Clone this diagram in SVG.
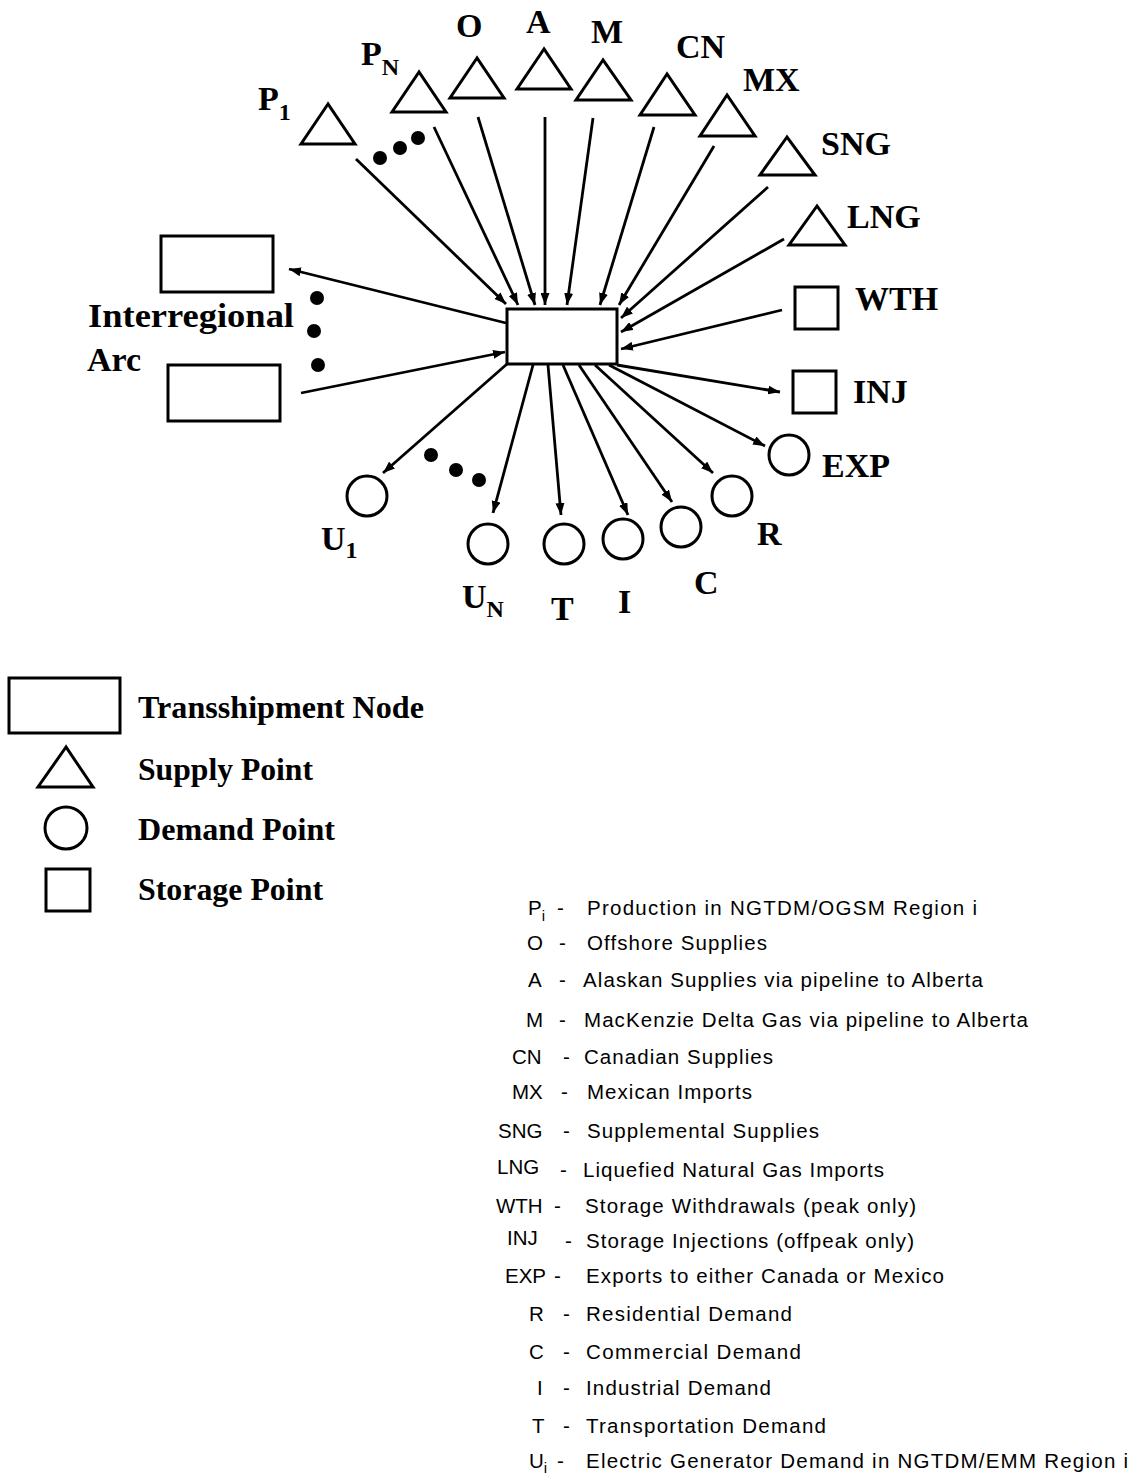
<svg xmlns="http://www.w3.org/2000/svg" width="1135" height="1477" viewBox="0 0 1135 1477">
<style>
.shp{fill:#fff;stroke:#000;stroke-width:3}
.con line{stroke:#000;stroke-width:2.8}
.lbl{font-family:"Liberation Serif","Times New Roman",serif;font-weight:bold;font-size:34px;fill:#000}
.leg{font-family:"Liberation Serif","Times New Roman",serif;font-weight:bold;font-size:32px;fill:#000}
.sub{font-size:24px}
.txt{font-family:"Liberation Sans",Arial,sans-serif;font-size:20.5px;fill:#000}
.tsub{font-size:15px}
.dot{fill:#000}
</style>
<defs>
<marker id="ah" markerUnits="userSpaceOnUse" markerWidth="13" markerHeight="9" refX="12" refY="4.5" orient="auto">
<path d="M0,0 L12,4.5 L0,9 z" fill="#000"/>
</marker>
</defs>
<rect width="1135" height="1477" fill="#fff"/>

<g class="con">
<line x1="356" y1="159" x2="506" y2="304" marker-end="url(#ah)"/>
<line x1="434" y1="127" x2="518" y2="305" marker-end="url(#ah)"/>
<line x1="478" y1="117" x2="535" y2="305" marker-end="url(#ah)"/>
<line x1="545" y1="117" x2="545" y2="305" marker-end="url(#ah)"/>
<line x1="593" y1="118" x2="567" y2="305" marker-end="url(#ah)"/>
<line x1="654" y1="127" x2="600" y2="305" marker-end="url(#ah)"/>
<line x1="714" y1="146" x2="619" y2="305" marker-end="url(#ah)"/>
<line x1="768" y1="187" x2="621" y2="318" marker-end="url(#ah)"/>
<line x1="784" y1="239" x2="621" y2="332" marker-end="url(#ah)"/>
<line x1="782" y1="310" x2="621" y2="349" marker-end="url(#ah)"/>
<line x1="506" y1="323" x2="289" y2="269" marker-end="url(#ah)"/>
<line x1="301" y1="393" x2="505" y2="352" marker-end="url(#ah)"/>
<line x1="617" y1="365" x2="780" y2="392" marker-end="url(#ah)"/>
<line x1="609" y1="365" x2="765" y2="446" marker-end="url(#ah)"/>
<line x1="595" y1="365" x2="713" y2="473" marker-end="url(#ah)"/>
<line x1="579" y1="365" x2="672" y2="502" marker-end="url(#ah)"/>
<line x1="563" y1="365" x2="628" y2="515" marker-end="url(#ah)"/>
<line x1="548" y1="365" x2="561" y2="515" marker-end="url(#ah)"/>
<line x1="533" y1="365" x2="493" y2="513" marker-end="url(#ah)"/>
<line x1="507" y1="364" x2="383" y2="473" marker-end="url(#ah)"/>
</g>

<g id="node-transshipment"><rect class="shp" x="507" y="309" width="110" height="55"/></g>

<g id="node-inter-upper"><rect class="shp" x="161" y="236" width="112" height="56"/></g>
<g id="node-inter-lower"><rect class="shp" x="168" y="365" width="112" height="56"/>
<text class="lbl" x="88" y="327" textLength="206" lengthAdjust="spacingAndGlyphs">Interregional</text>
<text class="lbl" x="87" y="371">Arc</text></g>

<g id="node-P1"><polygon class="shp" points="328,104 301,144 355,144"/><text class="lbl" x="258" y="110">P<tspan class="sub" dy="10">1</tspan></text></g>
<g id="node-PN"><polygon class="shp" points="419,72 392,112 446,112"/><text class="lbl" x="361" y="65">P<tspan class="sub" dy="10">N</tspan></text></g>
<g id="node-O"><polygon class="shp" points="477,58 450,98 504,98"/><text class="lbl" x="456" y="37">O</text></g>
<g id="node-A"><polygon class="shp" points="544,49 517,89 571,89"/><text class="lbl" x="526" y="33">A</text></g>
<g id="node-M"><polygon class="shp" points="603,60 576,100 631,100"/><text class="lbl" x="591" y="43">M</text></g>
<g id="node-CN"><polygon class="shp" points="667,74 640,115 695,115"/><text class="lbl" x="676" y="58">CN</text></g>
<g id="node-MX"><polygon class="shp" points="727,95 700,136 755,136"/><text class="lbl" x="743" y="91">MX</text></g>
<g id="node-SNG"><polygon class="shp" points="787,137 760,175 815,175"/><text class="lbl" x="821" y="155">SNG</text></g>
<g id="node-LNG"><polygon class="shp" points="817,206 789,245 845,245"/><text class="lbl" x="847" y="228">LNG</text></g>

<g id="node-WTH"><rect class="shp" x="795" y="287" width="43" height="42"/><text class="lbl" x="855" y="310">WTH</text></g>
<g id="node-INJ"><rect class="shp" x="793" y="371" width="43" height="42"/><text class="lbl" x="853" y="403">INJ</text></g>

<g id="node-EXP"><circle class="shp" cx="789" cy="455" r="20"/><text class="lbl" x="822" y="477">EXP</text></g>
<g id="node-R"><circle class="shp" cx="732" cy="496" r="20"/><text class="lbl" x="757" y="545">R</text></g>
<g id="node-C"><circle class="shp" cx="681" cy="527" r="20"/><text class="lbl" x="694" y="594">C</text></g>
<g id="node-I"><circle class="shp" cx="623" cy="539" r="20"/><text class="lbl" x="618" y="613">I</text></g>
<g id="node-T"><circle class="shp" cx="564" cy="544" r="20"/><text class="lbl" x="551" y="620">T</text></g>
<g id="node-UN"><circle class="shp" cx="488" cy="544" r="20"/><text class="lbl" x="462" y="608">U<tspan class="sub" dy="9">N</tspan></text></g>
<g id="node-U1"><circle class="shp" cx="367" cy="496" r="20"/><text class="lbl" x="321" y="550">U<tspan class="sub" dy="8">1</tspan></text></g>

<g id="dots">
<circle class="dot" cx="380" cy="158" r="7"/><circle class="dot" cx="400" cy="148" r="7"/><circle class="dot" cx="418" cy="138" r="7"/>
<circle class="dot" cx="317" cy="298" r="7"/><circle class="dot" cx="314" cy="331" r="7"/><circle class="dot" cx="318" cy="365" r="7"/>
<circle class="dot" cx="431" cy="455" r="7"/><circle class="dot" cx="456" cy="470" r="7"/><circle class="dot" cx="479" cy="480" r="7"/>
</g>

<g id="legend-shapes">
<rect class="shp" x="9" y="678" width="111" height="55"/>
<text class="leg" x="138" y="718" textLength="286" lengthAdjust="spacingAndGlyphs">Transshipment Node</text>
<polygon class="shp" points="66,747 38,787 93,787"/>
<text class="leg" x="138" y="780" textLength="175" lengthAdjust="spacingAndGlyphs">Supply Point</text>
<circle class="shp" cx="66" cy="828" r="21"/>
<text class="leg" x="138" y="840" textLength="197" lengthAdjust="spacingAndGlyphs">Demand Point</text>
<rect class="shp" x="46" y="869" width="44" height="42"/>
<text class="leg" x="138" y="900" textLength="185" lengthAdjust="spacingAndGlyphs">Storage Point</text>
</g>

<g id="legend-text" class="txt">
<text x="528" y="915">P<tspan class="tsub" dy="6">i</tspan></text><text x="557" y="915">-</text><text x="587" y="915" textLength="390" lengthAdjust="spacing">Production in NGTDM/OGSM Region i</text>
<text x="527" y="950">O</text><text x="559" y="950">-</text><text x="587" y="950" textLength="180" lengthAdjust="spacing">Offshore Supplies</text>
<text x="528" y="987">A</text><text x="559" y="987">-</text><text x="583" y="987" textLength="400" lengthAdjust="spacing">Alaskan Supplies via pipeline to Alberta</text>
<text x="526" y="1027">M</text><text x="559" y="1027">-</text><text x="584" y="1027" textLength="444" lengthAdjust="spacing">MacKenzie Delta Gas via pipeline to Alberta</text>
<text x="512" y="1064">CN</text><text x="563" y="1064">-</text><text x="584" y="1064" textLength="189" lengthAdjust="spacing">Canadian Supplies</text>
<text x="512" y="1099">MX</text><text x="561" y="1099">-</text><text x="587" y="1099" textLength="165" lengthAdjust="spacing">Mexican Imports</text>
<text x="498" y="1138">SNG</text><text x="563" y="1138">-</text><text x="587" y="1138" textLength="232" lengthAdjust="spacing">Supplemental Supplies</text>
<text x="497" y="1174">LNG</text><text x="560" y="1177">-</text><text x="583" y="1177" textLength="301" lengthAdjust="spacing">Liquefied Natural Gas Imports</text>
<text x="496" y="1213">WTH</text><text x="554" y="1213">-</text><text x="585" y="1213" textLength="331" lengthAdjust="spacing">Storage Withdrawals (peak only)</text>
<text x="507" y="1245">INJ</text><text x="565" y="1248">-</text><text x="586" y="1248" textLength="328" lengthAdjust="spacing">Storage Injections (offpeak only)</text>
<text x="505" y="1283">EXP</text><text x="554" y="1283">-</text><text x="586" y="1283" textLength="358" lengthAdjust="spacing">Exports to either Canada or Mexico</text>
<text x="529" y="1321">R</text><text x="563" y="1321">-</text><text x="586" y="1321" textLength="206" lengthAdjust="spacing">Residential Demand</text>
<text x="529" y="1359">C</text><text x="563" y="1359">-</text><text x="586" y="1359" textLength="215" lengthAdjust="spacing">Commercial Demand</text>
<text x="537" y="1395">I</text><text x="563" y="1395">-</text><text x="586" y="1395" textLength="185" lengthAdjust="spacing">Industrial Demand</text>
<text x="532" y="1433">T</text><text x="563" y="1433">-</text><text x="586" y="1433" textLength="240" lengthAdjust="spacing">Transportation Demand</text>
<text x="529" y="1468">U<tspan class="tsub" dy="5">i</tspan></text><text x="557" y="1468">-</text><text x="586" y="1468" textLength="542" lengthAdjust="spacing">Electric Generator Demand in NGTDM/EMM Region i</text>
</g>
</svg>
